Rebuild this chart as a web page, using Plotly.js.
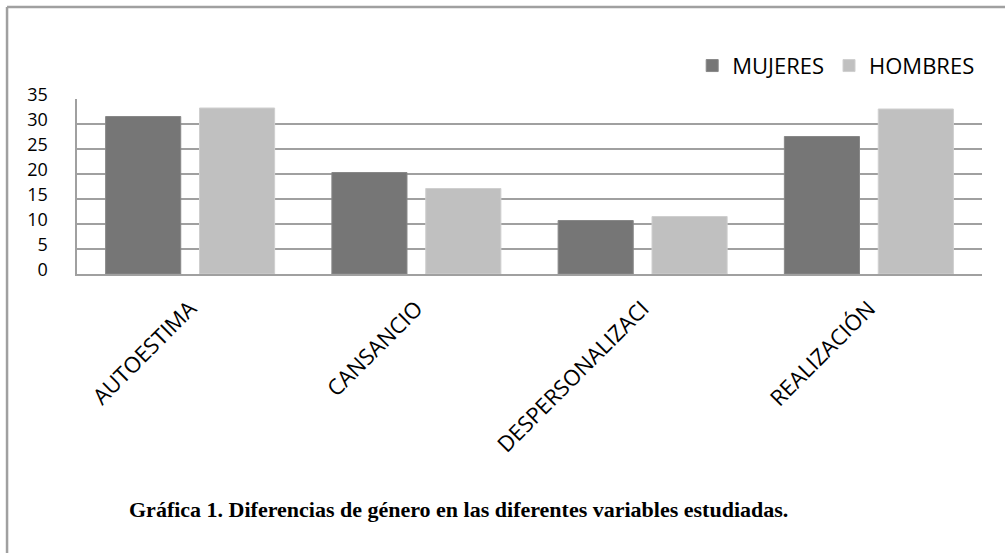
<!DOCTYPE html>
<html>
<head>
<meta charset="utf-8">
<script src="https://cdn.plot.ly/plotly-3.0.1.min.js"></script>
<style>
html,body{margin:0;padding:0;background:#fff;}
#chart{width:1005px;height:553px;}
</style>
</head>
<body>
<div id="chart"></div>
<script>
const categories = ["AUTOESTIMA", "CANSANCIO", "DESPERSONALIZACI", "REALIZACIÓN"];
const mujeres = [31.5, 20.3, 10.7, 27.5];
const hombres = [33.2, 17.1, 11.5, 33.0];
const yTicks = [0, 5, 10, 15, 20, 25, 30, 35];
const caption = "Gráfica 1. Diferencias de género en las diferentes variables estudiadas.";

const font = "Open Sans, Lato, sans-serif";
const grey = "#A0A0A0";

const traces = [
  {type: "bar", name: "MUJERES", x: categories, y: mujeres,
   marker: {color: "#767676", line: {color: "#888888", width: 1}}},
  {type: "bar", name: "HOMBRES", x: categories, y: hombres,
   marker: {color: "#C0C0C0", line: {color: "#CFCFCF", width: 1}}}
];

const layout = {
  width: 1005, height: 553,
  margin: {l: 77, r: 23, t: 99, b: 279, pad: 0},
  paper_bgcolor: "#fff", plot_bgcolor: "#fff",
  barmode: "group", bargap: 0.17, bargroupgap: 0.2,
  showlegend: true,
  legend: {orientation: "h", x: 0.998, xanchor: "right", y: 1.19, yanchor: "middle",
           font: {family: font, size: 22, color: "#000"}, bgcolor: "rgba(0,0,0,0)",
           traceorder: "normal"},
  xaxis: {type: "category", tickangle: -45, ticks: "", showgrid: false,
          showline: true, linecolor: grey, linewidth: 2,
          tickfont: {family: font, size: 22, color: "#000"},
          ticklabelstandoff: 11, automargin: false, fixedrange: true},
  yaxis: {range: [0, 35], tickmode: "array", tickvals: yTicks, ticktext: yTicks.map(String),
          showgrid: true, gridcolor: grey, gridwidth: 1.6, zeroline: false,
          showline: true, linecolor: grey, linewidth: 1.6, ticks: "",
          tickfont: {family: font, size: 18, color: "#000"},
          ticklabelstandoff: 24, ticklabelshift: -4, automargin: false, fixedrange: true},
  shapes: [
    {type: "line", xref: "paper", yref: "paper", x0: -0.0773, x1: 1.03, y0: 1.5257, y1: 1.5257,
     line: {color: grey, width: 2.5}},
    {type: "line", xref: "paper", yref: "paper", x0: -0.0773, x1: -0.0773, y0: 1.5257, y1: -1.7,
     line: {color: grey, width: 2.5}}
  ],
  annotations: [
    {text: "<b>" + caption + "</b>", xref: "paper", yref: "paper", x: 0.422, y: -1.343,
     xanchor: "center", yanchor: "middle", showarrow: false,
     font: {family: "Liberation Serif, Times New Roman, serif", size: 22, color: "#000"}}
  ]
};

Plotly.newPlot("chart", traces, layout, {displayModeBar: false, staticPlot: true});
</script>
</body>
</html>
